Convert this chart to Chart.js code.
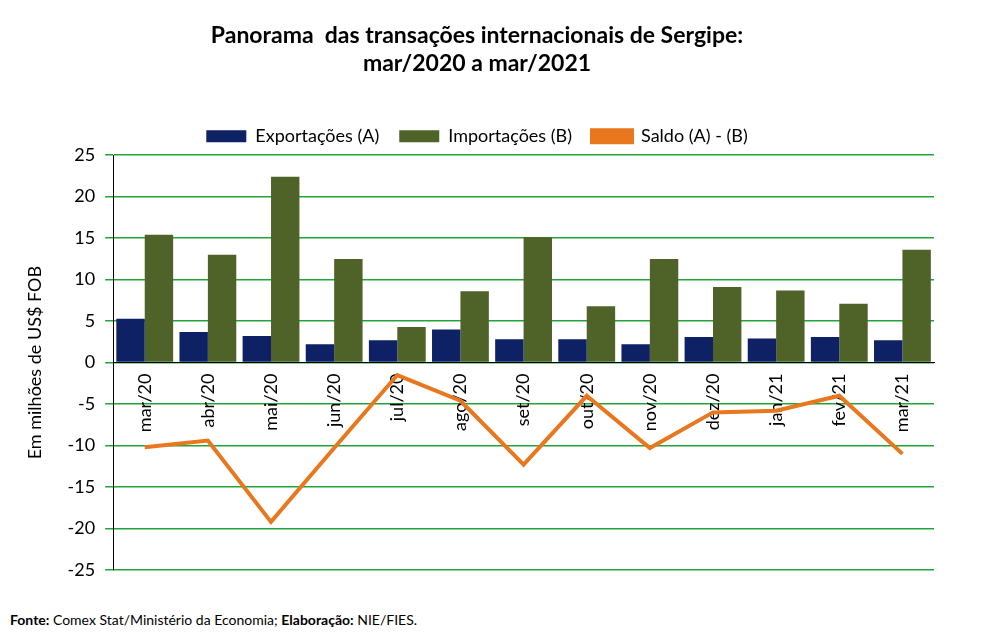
<!DOCTYPE html>
<html><head><meta charset="utf-8">
<script src="https://cdn.jsdelivr.net/npm/chart.js@4"></script>
<style>
body{margin:0;background:#fff;font-family:Lato,sans-serif;}
#wrap{position:absolute;left:0;top:0;width:984px;height:600px;}
#foot{position:absolute;left:10px;top:611px;font-size:14px;color:#000;}
</style></head><body>
<div id="wrap"><canvas id="c" width="984" height="600"></canvas></div>
<div id="foot"><b>Fonte:</b> Comex Stat/Ministério da Economia; <b>Elaboração:</b> NIE/FIES.</div>
<script>
const categories=["mar/20","abr/20","mai/20","jun/20","jul/20","ago/20","set/20","out/20","nov/20","dez/20","jan/21","fev/21","mar/21"];
const exportacoes=[5.3,3.7,3.2,2.2,2.7,4.0,2.8,2.8,2.2,3.1,2.9,3.1,2.7];
const importacoes=[15.4,13.0,22.4,12.5,4.3,8.6,15.1,6.8,12.5,9.1,8.7,7.1,13.6];
const saldo=[-10.2,-9.4,-19.2,-10.3,-1.5,-4.6,-12.3,-4.0,-10.3,-6.0,-5.8,-4.0,-11.0];
Chart.defaults.font.family="Lato, sans-serif";
Chart.defaults.color="#000";
new Chart(document.getElementById('c'),{
 data:{labels:categories,datasets:[
  {type:'line',label:'Saldo (A) - (B)',data:saldo,borderColor:'#e8771e',backgroundColor:'#e8771e',borderWidth:4,pointRadius:0,order:0},
  {type:'bar',label:'Exportações (A)',data:exportacoes,backgroundColor:'#0d2164',categoryPercentage:0.9,barPercentage:1,order:1},
  {type:'bar',label:'Importações (B)',data:importacoes,backgroundColor:'#4f6228',categoryPercentage:0.9,barPercentage:1,order:1}
 ]},
 options:{responsive:false,animation:false,
  layout:{padding:{left:20,right:50,top:0,bottom:30}},
  plugins:{
   title:{display:true,text:['Panorama  das transações internacionais de Sergipe:','mar/2020 a mar/2021'],font:{size:23,weight:'bold'},padding:{top:22,bottom:30},lineHeight:1.4},
   legend:{labels:{font:{size:18},boxWidth:40,boxHeight:12,padding:20,sort:(a,b)=>[1,2,0].indexOf(a.datasetIndex)-[1,2,0].indexOf(b.datasetIndex)}},
   tooltip:{enabled:false}
  },
  scales:{
   x:{position:{y:0},grid:{display:false},border:{color:'#000'},ticks:{minRotation:90,maxRotation:90,font:{size:18}}},
   y:{min:-25,max:25,ticks:{stepSize:5,font:{size:18},padding:10},grid:{color:'#22a33a',lineWidth:1.5,drawTicks:true},border:{color:'#000'},
      title:{display:true,text:'Em milhões de US$ FOB',font:{size:18},padding:{bottom:12}}}
  }
 }
});
</script></body></html>
